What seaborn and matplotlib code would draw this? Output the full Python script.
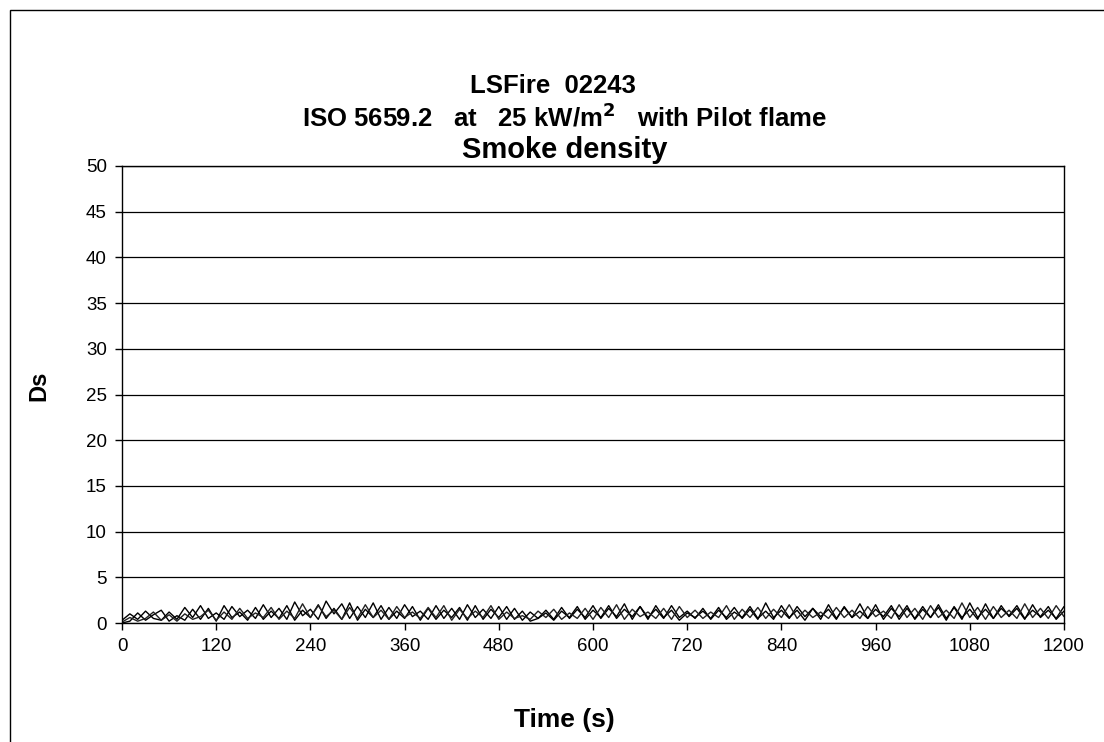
import numpy as np
import pandas as pd
import matplotlib.pyplot as plt
import seaborn as sns
from matplotlib.patches import Rectangle

# time axis, one reading every 10 s
time_s = list(range(0, 1201, 10))

# three test runs, Ds
run_1 = [0.3, 1.0, 0.4, 1.3, 0.5, 0.3, 1.2, 0.4, 1.7, 0.6, 1.9, 0.5, 1.1, 0.4, 1.8, 0.7, 1.4, 0.5, 2.0, 0.6,
         1.6, 0.4, 2.3, 0.8, 1.5, 0.4, 2.4, 1.0, 2.1, 0.5, 1.8, 0.6, 2.2, 0.4, 1.7, 0.5, 2.0, 0.7, 1.3, 0.4,
         1.9, 0.5, 1.6, 0.4, 2.0, 0.6, 1.5, 0.5, 1.8, 0.4, 1.6, 0.3, 1.2, 0.5, 1.4, 0.4, 1.7, 0.5, 1.5, 0.6,
         1.9, 0.5, 1.6, 0.7, 2.1, 0.4, 1.8, 0.6, 1.5, 0.5, 1.9, 0.6, 1.3, 0.5, 1.6, 0.4, 1.4, 0.6, 1.7, 0.5,
         1.5, 0.4, 2.2, 0.6, 1.4, 0.5, 1.8, 0.7, 1.6, 0.4, 2.0, 0.5, 1.7, 0.6, 2.1, 0.5, 1.5, 0.7, 1.9, 0.4,
         1.6, 0.5, 1.8, 0.6, 2.0, 0.5, 1.7, 0.4, 2.2, 0.6, 1.5, 0.5, 1.9, 0.7, 1.6, 0.4, 2.0, 0.6, 1.4, 0.5, 1.8]
run_2 = [0.0, 0.2, 1.1, 0.3, 0.9, 1.4, 0.2, 0.8, 0.3, 1.5, 0.4, 1.6, 0.2, 1.9, 0.6, 1.2, 0.3, 1.7, 0.4, 1.3,
         0.5, 1.9, 0.3, 1.4, 0.6, 2.0, 0.5, 1.6, 0.4, 2.2, 0.3, 1.5, 0.6, 1.9, 0.4, 1.3, 0.5, 1.8, 0.3, 1.6,
         0.4, 1.4, 0.6, 1.7, 0.3, 1.9, 0.4, 1.5, 0.6, 1.8, 0.4, 1.3, 0.2, 0.5, 1.1, 0.3, 1.3, 0.6, 1.8, 0.4,
         1.4, 0.6, 1.9, 0.5, 1.5, 0.7, 1.8, 0.4, 1.9, 0.6, 1.4, 0.3, 1.1, 0.6, 1.3, 0.5, 1.7, 0.4, 1.2, 0.6,
         1.8, 0.5, 1.3, 0.4, 1.9, 0.6, 1.4, 0.3, 1.6, 0.7, 1.5, 0.4, 1.8, 0.6, 1.3, 0.5, 2.0, 0.4, 1.6, 0.7,
         1.9, 0.4, 1.5, 0.6, 1.7, 0.3, 1.8, 0.6, 1.5, 0.4, 2.1, 0.5, 1.6, 0.8, 1.9, 0.5, 1.4, 0.7, 1.8, 0.4, 1.3]
run_3 = [0.1, 0.6, 0.2, 0.5, 1.2, 0.3, 0.9, 0.2, 1.0, 0.4, 0.7, 1.4, 0.3, 1.2, 0.4, 1.6, 0.5, 1.1, 0.6, 1.7,
         0.4, 1.3, 0.5, 2.1, 0.6, 1.9, 0.7, 1.4, 0.4, 1.7, 0.5, 2.0, 0.6, 1.4, 0.4, 1.8, 0.6, 1.2, 0.5, 1.7,
         0.6, 1.9, 0.3, 1.5, 0.5, 1.3, 0.6, 1.9, 0.4, 1.2, 0.5, 0.8, 0.4, 1.3, 0.6, 1.5, 0.4, 1.1, 0.5, 1.6,
         0.4, 1.7, 0.6, 2.0, 0.4, 1.5, 0.7, 1.2, 0.5, 1.6, 0.4, 1.8, 0.6, 1.4, 0.5, 1.2, 0.6, 1.9, 0.4, 1.5,
         0.6, 1.7, 0.5, 1.5, 0.6, 2.0, 0.5, 1.4, 0.6, 1.2, 0.5, 1.7, 0.6, 1.4, 0.5, 1.8, 0.7, 1.3, 0.5, 2.0,
         0.6, 1.6, 0.4, 1.9, 0.6, 1.4, 0.5, 2.2, 0.6, 1.7, 0.4, 1.8, 0.6, 1.4, 0.5, 2.1, 0.6, 1.6, 0.5, 1.9, 0.7]

x_ticks = list(range(0, 1201, 120))
y_ticks = list(range(0, 51, 5))

df = pd.DataFrame({
    "Time": time_s * 3,
    "Ds": run_1 + run_2 + run_3,
    "run": ["1"] * len(time_s) + ["2"] * len(time_s) + ["3"] * len(time_s),
})

sns.set_theme(style="white")
plt.rcParams["font.family"] = ["Liberation Sans", "DejaVu Sans"]
plt.rcParams["text.color"] = "black"
plt.rcParams["axes.labelcolor"] = "black"

fig = plt.figure(figsize=(11.04, 7.42), dpi=100)
ax = fig.add_axes([122 / 1104, 1 - 623 / 742, (1064 - 122) / 1104, (623 - 166) / 742])

sns.lineplot(data=df, x="Time", y="Ds", hue="run", palette=["black", "black", "#222222"],
             linewidth=1.0, legend=False, ax=ax)

ax.set_xlim(0, 1200)
ax.set_ylim(0, 50)
ax.set_xticks(x_ticks)
ax.set_yticks(y_ticks)
ax.yaxis.grid(True, color="black", linewidth=0.9)
ax.set_axisbelow(True)
for s in ax.spines.values():
    s.set_color("black")
    s.set_linewidth(1.0)
ax.tick_params(axis="both", direction="out", length=5, width=1, color="black",
               labelsize=13.5, labelcolor="black", bottom=True, left=True, pad=6)
ax.set_xlabel("Time (s)", fontsize=19, fontweight="bold")
ax.set_ylabel("Ds", fontsize=17, fontweight="bold")
ax.xaxis.set_label_coords(0.47, -0.186)
ax.yaxis.set_label_coords(-0.076, 0.52)

fig.text(553 / 1104, 1 - 86 / 742, "LSFire  02243", ha="center", va="center",
         fontsize=18.5, fontweight="bold")
fig.text(565 / 1104, 1 - 117 / 742, "ISO 5659.2   at   25 kW/m$^\\mathbf{2}$   with Pilot flame",
         ha="center", va="center", fontsize=18.5, fontweight="bold")
fig.text(565 / 1104, 1 - 150 / 742, "Smoke density", ha="center", va="center",
         fontsize=21, fontweight="bold")

# outer chart border
fig.patches.append(Rectangle((10 / 1104, -0.1), 1.2, (742 - 10) / 742 + 0.1,
                             transform=fig.transFigure, fill=False,
                             edgecolor="black", linewidth=1.0))

fig.savefig("out.png", dpi=100, facecolor="white")
